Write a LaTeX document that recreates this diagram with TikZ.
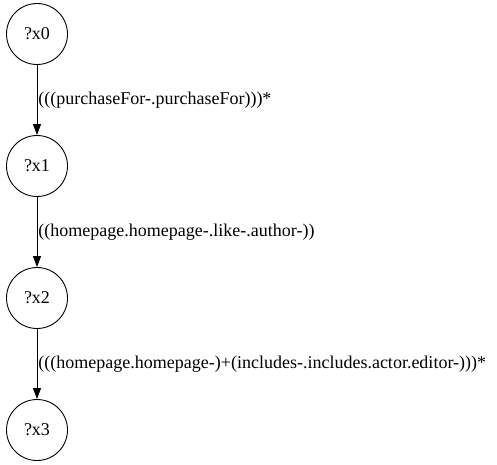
\documentclass[tikz,border=0pt]{standalone}
\usepackage{fontspec}
\setmainfont{Liberation Serif}
\usetikzlibrary{positioning,arrows.meta}

\begin{document}
\begin{tikzpicture}[x=1pt, y=-1pt,
  var/.style={draw, circle, line width=0.9pt, minimum size=61pt, inner sep=0pt, font=\fontsize{18}{21}\selectfont},
  arr/.style={-{Triangle[length=11pt, width=8pt]}, line width=0.9pt},
  lbl/.style={font=\fontsize{18}{21}\selectfont, inner sep=0pt}
]
\useasboundingbox (0,0) rectangle (497,464);
\node[var] (x0) at (37,34) {?x0};
\node[var] (x1) at (37,166) {?x1};
\node[var] (x2) at (37,298) {?x2};
\node[var] (x3) at (37,430) {?x3};
\draw[arr] (x0) -- (x1)
  node[lbl, midway, right=1pt] {(((purchaseFor-.purchaseFor)))*};
\draw[arr] (x1) -- (x2)
  node[lbl, midway, right=1pt] {((homepage.homepage-.like-.author-))};
\draw[arr] (x2) -- (x3)
  node[lbl, midway, right=1pt] {(((homepage.homepage-)+(includes-.includes.actor.editor-)))*};
\end{tikzpicture}
\end{document}
